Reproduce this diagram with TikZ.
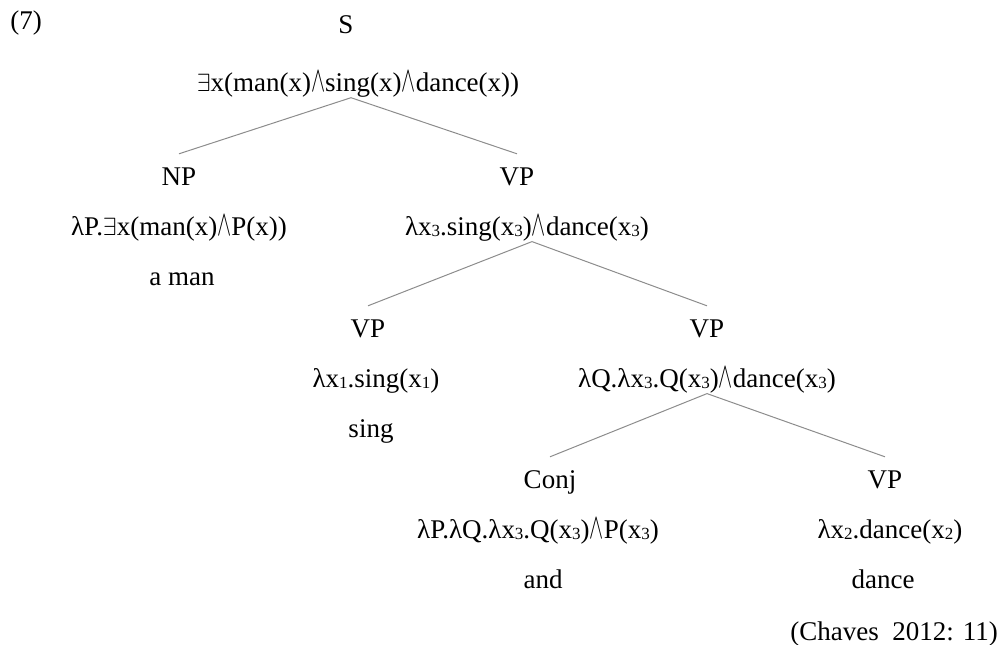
\documentclass[tikz,border=0pt]{standalone}
\usepackage{fontspec}
\usepackage{graphicx}
\setmainfont{Liberation Serif}
\usetikzlibrary{positioning}
\newcommand{\Exists}{$\exists$}
\newcommand{\Land}{\scalebox{0.85}[1.45]{$\wedge$}}
\newcommand{\Sb}[1]{\raisebox{-1.5pt}{\fontsize{17}{17}\selectfont #1}}
\tikzset{
    big/.style={inner sep=0pt, font={\fontsize{27}{32}\selectfont}},
    cat/.style={big, text height=31pt, text depth=6pt},
    sem/.style={big, text height=19pt, text depth=6pt},
    word/.style={sem},
    branch/.style={draw=black!45, line width=1pt},
}
\begin{document}
\begin{tikzpicture}[x=1pt, y=-1pt, node distance=25pt]
    \useasboundingbox (0,0) rectangle (1005,645);

    \node[sem] (ex) at (26,22.5) {(7)};

    % root
    \node[cat] (s) at (346,20.5) {S};
    \node[sem] (s-sem) at (358,85) {\Exists x(man(x)\Land sing(x)\Land dance(x))};

    % subject
    \node[cat] (np) at (179,172.5) {NP};
    \node[sem, below=of np] (np-sem) {λP.\Exists x(man(x)\Land P(x))};
    \node[word, below=of np-sem, xshift=3pt] (np-word) {a man};

    % predicate
    \node[cat] (vp) at (517,172.5) {VP};
    \node[sem, below=of vp, xshift=10pt] (vp-sem) {λx\Sb{3}.sing(x\Sb{3})\Land dance(x\Sb{3})};

    \node[cat] (vp1) at (368,324.5) {VP};
    \node[sem, below=of vp1, xshift=8pt] (vp1-sem) {λx\Sb{1}.sing(x\Sb{1})};
    \node[word, below=of vp1-sem, xshift=-5pt] (vp1-word) {sing};

    \node[cat] (vp2) at (707,324.5) {VP};
    \node[sem, below=of vp2] (vp2-sem) {λQ.λx\Sb{3}.Q(x\Sb{3})\Land dance(x\Sb{3})};

    \node[cat] (conj) at (550,475.5) {Conj};
    \node[sem, below=of conj, xshift=-12pt] (conj-sem) {λP.λQ.λx\Sb{3}.Q(x\Sb{3})\Land P(x\Sb{3})};
    \node[word, below=of conj-sem, xshift=5pt] (conj-word) {and};

    \node[cat] (vp3) at (885,475.5) {VP};
    \node[sem, below=of vp3, xshift=5pt] (vp3-sem) {λx\Sb{2}.dance(x\Sb{2})};
    \node[word, below=of vp3-sem, xshift=-7pt] (vp3-word) {dance};

    \node[sem, anchor=east] (src) at (998,633.5) {(Chaves\ \ 2012: 11)};

    % branches
    \draw[branch] ([xshift=-7pt]s-sem.south) -- (np.north);
    \draw[branch] ([xshift=-7pt]s-sem.south) -- (vp.north);
    \draw[branch] ([xshift=5pt]vp-sem.south) -- (vp1.north);
    \draw[branch] ([xshift=5pt]vp-sem.south) -- (vp2.north);
    \draw[branch] (vp2-sem.south) -- (conj.north);
    \draw[branch] (vp2-sem.south) -- (vp3.north);
\end{tikzpicture}
\end{document}
